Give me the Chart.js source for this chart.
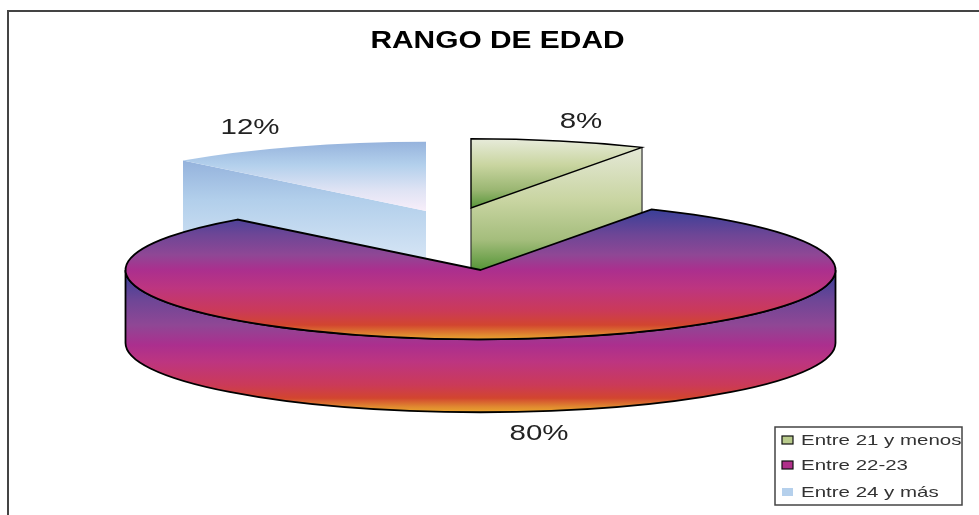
<!DOCTYPE html>
<html>
<head>
<meta charset="utf-8">
<style>
  html, body { margin: 0; padding: 0; background: #fff; overflow: hidden; }
  canvas { display: block; filter: blur(0.6px); }
</style>
<script src="https://cdn.jsdelivr.net/npm/chart.js@4"></script>
</head>
<body>
<canvas id="pie" width="979" height="515"></canvas>
<script>
var titleText = "RANGO DE EDAD";
var categories = ["Entre 21 y menos", "Entre 22-23", "Entre 24 y más"];
var sliceValues = [8, 80, 12];

// how the flat pie gets squashed into the 3d look
var RADIUS = 355;
var TILT = 0.195;
var DEPTH = 73;
var centers = [{x: 471, y: 208}, {x: 480.5, y: 270}, {x: 426, y: 211}];
var labelSpots = [{x: 581, y: 128}, {x: 539, y: 440}, {x: 250, y: 134}];
var legendBaselines = [445, 470, 497];
var drawOrder = [2, 0, 1];

// gradient stops: [screen y, colour]
var topStops = [
  [[139, "#e7ebda"], [165, "#c9d5a0"], [190, "#9ab672"], [207, "#5b983c"]],
  [[209, "#383f98"], [235, "#6e4696"], [255, "#8f4795"], [270, "#ab2f8e"], [288, "#bd3580"], [311, "#cb3a58"], [325, "#d2452f"], [335, "#e08a30"], [340, "#eca52e"]],
  [[141, "#95b2dc"], [165, "#b3d0ec"], [190, "#dfe3f4"], [212, "#f9effa"]]
];
var sideStops = [
  [[148, "#e4e8d6"], [200, "#c9d5a2"], [240, "#a4bd7c"], [268, "#5b983c"]],
  [[272, "#383f98"], [300, "#6e4696"], [325, "#8f4795"], [345, "#ab2f8e"], [362, "#bd3580"], [385, "#cb3a58"], [398, "#d2452f"], [407, "#e08a30"], [412, "#eca52e"]],
  [[160, "#94b2dc"], [200, "#b2cfeb"], [260, "#d6e5f5"], [285, "#e2ecf8"]]
];
var swatchColors = ["#b9cb8c", "#b0308a", "#b5d0ec"];

var screenGradient = (ctx, stops, toY) => {
  var first = stops[0][0];
  var last = stops[stops.length - 1][0];
  var grad = ctx.createLinearGradient(0, toY(first), 0, toY(last));
  for(var i = 0;i < stops.length;i++) {
    grad.addColorStop((stops[i][0] - first) / (last - first), stops[i][1]);
  }
  return grad;
};

var sliceFill = (c) => {
  var area = c.chart.chartArea;
  if(!area || c.dataIndex === undefined) {
    return "#888";
  }
  // the arc is filled inside the squashed transform, so the stops are mapped back
  var midY = (area.top + area.bottom) / 2;
  var center = centers[c.dataIndex];
  return screenGradient(c.chart.ctx, topStops[c.dataIndex], (y) => midY + (y - center.y) / TILT);
};

var wideText = (ctx, text, x, y, font, color, align, stretch) => {
  ctx.save();
  ctx.translate(x, y);
  ctx.scale(stretch, 1);
  ctx.font = font;
  ctx.fillStyle = color;
  ctx.textAlign = align;
  ctx.textBaseline = "alphabetic";
  ctx.fillText(text, 0, 0);
  ctx.restore();
};

var rimPoint = (center, angle) => {
  return {x: center.x + RADIUS * Math.cos(angle), y: center.y + RADIUS * TILT * Math.sin(angle)};
};

var drawCutFace = (ctx, i, center, angle) => {
  var rim = rimPoint(center, angle);
  ctx.beginPath();
  ctx.moveTo(center.x, center.y);
  ctx.lineTo(rim.x, rim.y);
  ctx.lineTo(rim.x, rim.y + DEPTH);
  ctx.lineTo(center.x, center.y + DEPTH);
  ctx.closePath();
  ctx.fillStyle = screenGradient(ctx, sideStops[i], (y) => y);
  ctx.fill();
};

var drawSlice = (ctx, chart, i) => {
  var arc = chart.getDatasetMeta(0).data[i];
  var center = centers[i];
  var ry = RADIUS * TILT;

  if(i == 1) {
    // curved wall of the big slice
    ctx.beginPath();
    ctx.ellipse(center.x, center.y, RADIUS, ry, 0, 0, Math.PI);
    ctx.lineTo(center.x - RADIUS, center.y + DEPTH);
    ctx.ellipse(center.x, center.y + DEPTH, RADIUS, ry, 0, Math.PI, 0, true);
    ctx.closePath();
    ctx.fillStyle = screenGradient(ctx, sideStops[i], (y) => y);
    ctx.fill();
    ctx.strokeStyle = "#000";
    ctx.lineWidth = 1.8;
    ctx.stroke();
  }
  else {
    var cutAngle = i == 0 ? arc.endAngle : arc.startAngle;
    drawCutFace(ctx, i, center, cutAngle);
    if(i == 0) {
      var rim = rimPoint(center, cutAngle);
      ctx.beginPath();
      ctx.moveTo(center.x, center.y);
      ctx.lineTo(center.x, center.y + DEPTH);
      ctx.moveTo(rim.x, rim.y);
      ctx.lineTo(rim.x, rim.y + DEPTH);
      ctx.strokeStyle = "#333";
      ctx.lineWidth = 1.2;
      ctx.stroke();
    }
  }

  // top face comes from the library's own arc element
  ctx.save();
  ctx.translate(center.x, center.y);
  ctx.scale(1, TILT);
  ctx.translate(-arc.x, -arc.y);
  arc.draw(ctx);
  ctx.restore();

  // the outline is stroked outside the transform to keep its width even
  if(i != 2) {
    ctx.beginPath();
    ctx.moveTo(center.x, center.y);
    ctx.ellipse(center.x, center.y, RADIUS, ry, 0, arc.startAngle, arc.endAngle);
    ctx.closePath();
    ctx.strokeStyle = "#000";
    ctx.lineWidth = i == 0 ? 1.4 : 1.8;
    ctx.stroke();
  }
};

var pie3d = {
  id: "pie3d",
  beforeDraw: (chart) => {
    var ctx = chart.ctx;
    ctx.fillStyle = "#fff";
    ctx.fillRect(0, 0, chart.width, chart.height);
    // page frame, only top and left show
    ctx.beginPath();
    ctx.moveTo(8, chart.height);
    ctx.lineTo(8, 11);
    ctx.lineTo(chart.width, 11);
    ctx.strokeStyle = "#444";
    ctx.lineWidth = 2;
    ctx.stroke();
  },
  beforeDatasetsDraw: (chart) => {
    for(var i = 0;i < drawOrder.length;i++) {
      drawSlice(chart.ctx, chart, drawOrder[i]);
    }
    return false;
  },
  afterDraw: (chart) => {
    var ctx = chart.ctx;
    wideText(ctx, titleText, 497.5, 48, "bold 23px 'Liberation Sans'", "#000", "center", 1.3);
    for(var i = 0;i < sliceValues.length;i++) {
      wideText(ctx, sliceValues[i] + "%", labelSpots[i].x, labelSpots[i].y, "22px 'Liberation Sans'", "#222", "center", 1.34);
    }
    // legend box
    ctx.strokeStyle = "#444";
    ctx.lineWidth = 1.5;
    ctx.strokeRect(775, 427, 187, 78);
    for(var j = 0;j < categories.length;j++) {
      var rowY = legendBaselines[j];
      ctx.fillStyle = swatchColors[j];
      ctx.fillRect(782, rowY - 9, 11, 8);
      if(j != 2) {
        ctx.strokeStyle = "#111";
        ctx.lineWidth = 1.2;
        ctx.strokeRect(782, rowY - 9, 11, 8);
      }
      wideText(ctx, categories[j], 801, rowY, "15px 'Liberation Sans'", "#333", "left", 1.365);
    }
  }
};

var pieChart = new Chart(document.getElementById("pie"), {
  type: "pie",
  plugins: [pie3d],
  data: {
    labels: categories,
    datasets: [{
      data: sliceValues,
      radius: RADIUS,
      borderWidth: 0,
      backgroundColor: sliceFill
    }]
  },
  options: {
    responsive: false,
    animation: false,
    events: [],
    layout: {padding: 0},
    plugins: {
      legend: {display: false},
      title: {display: false},
      tooltip: {enabled: false}
    }
  }
});
</script>
</body>
</html>
